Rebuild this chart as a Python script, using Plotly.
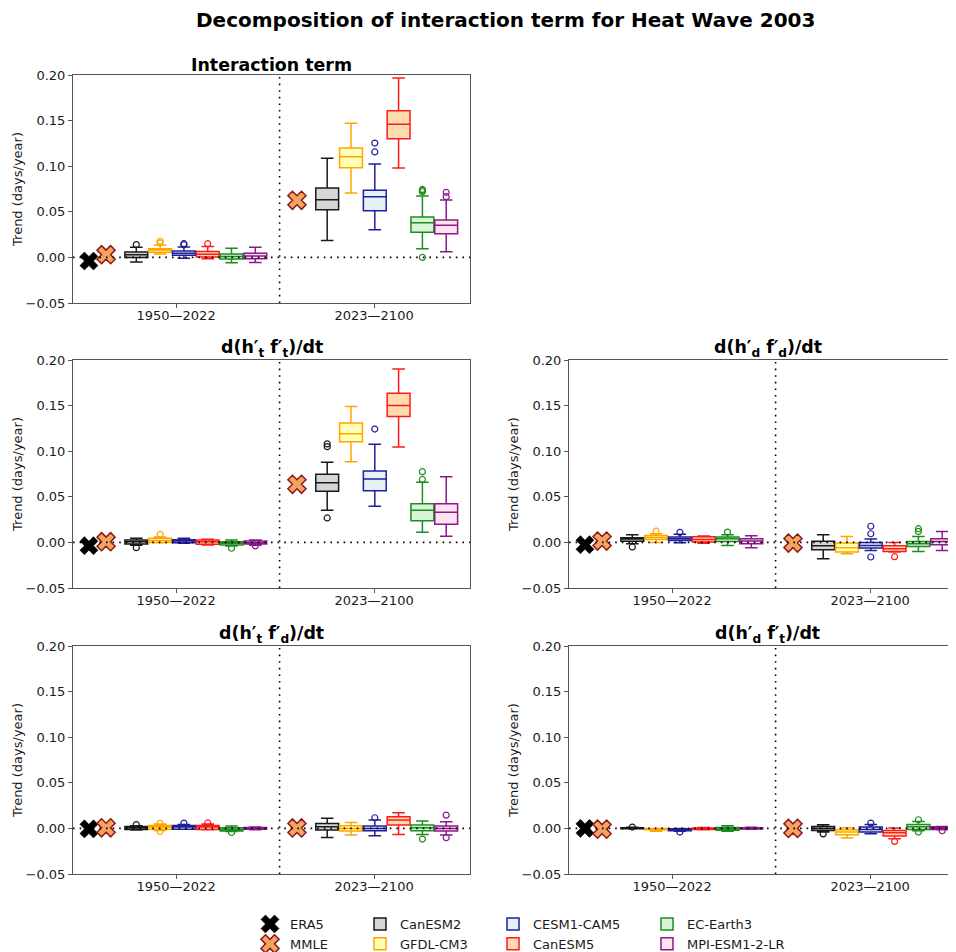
import plotly.graph_objects as go

# ---------------- data ----------------
MODELS = ["CanESM2", "GFDL-CM3", "CESM1-CAM5", "CanESM5", "EC-Earth3", "MPI-ESM1-2-LR"]
EDGE = ["#1a1a1a", "#ffa500", "#1f1f9a", "#ff1a1a", "#1e8c1e", "#8a1a8a"]
FILL = ["#d6d6d6", "#ffffb8", "#e4f1f7", "#ffdcb0", "#d8f4d8", "#fde4ee"]
PERIODS = ["1950\u20142022", "2023\u20142100"]
PANEL_TITLES = [
    "<b>Interaction term</b>",
    "<b>d(h\u2032<sub>t</sub> f\u2032<sub>t</sub>)/dt</b>",
    "<b>d(h\u2032<sub>d</sub> f\u2032<sub>d</sub>)/dt</b>",
    "<b>d(h\u2032<sub>t</sub> f\u2032<sub>d</sub>)/dt</b>",
    "<b>d(h\u2032<sub>d</sub> f\u2032<sub>t</sub>)/dt</b>",
]
YTICKS = [-0.05, 0.0, 0.05, 0.10, 0.15, 0.20]
YTICKTEXT = ["\u22120.05", "0.00", "0.05", "0.10", "0.15", "0.20"]

# stats indexed [panel][period][model]
LOWER = [
    [[-0.005, 0.0037, -0.001, -0.0015, -0.006, -0.0055],
     [0.0184, 0.0706, 0.0304, 0.098, 0.0096, 0.0063]],
    [[-0.003, -0.0005, -0.001, -0.0028, -0.004, -0.003],
     [0.0352, 0.0885, 0.0396, 0.1046, 0.011, 0.0067]],
    [[-0.0015, 0.0, -0.0004, -0.001, -0.0033, -0.0058],
     [-0.018, -0.0125, -0.009, -0.0105, -0.0099, -0.0088]],
    [[-0.0018, -0.0022, -0.001, -0.0015, -0.0035, -0.0015],
     [-0.0099, -0.0073, -0.008, -0.0066, -0.0066, -0.0073]],
    [[-0.0005, -0.003, -0.003, -0.0015, -0.003, -0.001],
     [-0.004, -0.0106, -0.0058, -0.0113, -0.0025, -0.0015]],
]
Q1 = [
    [[0.0, 0.0056, 0.0023, 0.0005, -0.0018, -0.0015],
     [0.0523, 0.0984, 0.0512, 0.130, 0.0275, 0.026]],
    [[-0.0018, 0.0, -0.0003, -0.002, -0.0028, -0.0018],
     [0.056, 0.1104, 0.0567, 0.138, 0.0238, 0.0198]],
    [[0.0012, 0.0033, 0.0022, 0.0004, 0.0011, -0.0015],
     [-0.008, -0.0105, -0.0062, -0.0099, -0.0044, -0.0026]],
    [[-0.0012, -0.001, -0.001, -0.0011, -0.0029, -0.001],
     [-0.0018, -0.0029, -0.0026, 0.0037, -0.0026, -0.0029]],
    [[-0.0005, -0.0015, -0.0025, -0.0013, -0.002, -0.0007],
     [-0.0022, -0.0069, -0.004, -0.0084, -0.0011, -0.0011]],
]
MEDIAN = [
    [[0.003, 0.008, 0.0045, 0.0035, 0.001, 0.0016],
     [0.0633, 0.1104, 0.0666, 0.146, 0.038, 0.0352]],
    [[0.0007, 0.002, 0.0015, 0.0008, -0.001, -0.0003],
     [0.0655, 0.119, 0.0695, 0.150, 0.0352, 0.033]],
    [[0.0036, 0.0055, 0.004, 0.0033, 0.004, 0.0015],
     [-0.0037, -0.006, -0.0033, -0.007, -0.0015, 0.0011]],
    [[0.0007, 0.0015, 0.0015, 0.0015, -0.0011, 0.0],
     [0.0018, 0.0, 0.0, 0.0091, 0.0007, 0.0]],
    [[0.0, -0.0008, -0.0015, -0.0005, -0.0005, 0.0],
     [0.0, -0.004, -0.0011, -0.0047, 0.0018, 0.0004]],
]
Q3 = [
    [[0.006, 0.0095, 0.007, 0.0065, 0.0037, 0.0045],
     [0.0761, 0.120, 0.0736, 0.1609, 0.0443, 0.041]],
    [[0.0026, 0.0045, 0.003, 0.0025, 0.0007, 0.0015],
     [0.0746, 0.131, 0.0783, 0.1635, 0.0424, 0.0424]],
    [[0.0052, 0.0077, 0.0058, 0.0062, 0.0058, 0.004],
     [0.0012, -0.0007, 0.0, -0.0037, 0.0011, 0.004]],
    [[0.0022, 0.0033, 0.0033, 0.0033, 0.0007, 0.0011],
     [0.0055, 0.0029, 0.0026, 0.0128, 0.0037, 0.0026]],
    [[0.0008, 0.0, -0.0003, 0.0005, 0.001, 0.0007],
     [0.0022, -0.0015, 0.0015, -0.0022, 0.0044, 0.0018]],
]
UPPER = [
    [[0.011, 0.0136, 0.0114, 0.012, 0.010, 0.011],
     [0.1087, 0.147, 0.1024, 0.1967, 0.0673, 0.063]],
    [[0.0045, 0.006, 0.0045, 0.0035, 0.0025, 0.0026],
     [0.0878, 0.149, 0.1075, 0.190, 0.066, 0.072]],
    [[0.0085, 0.0095, 0.0088, 0.007, 0.0084, 0.0073],
     [0.0084, 0.0066, 0.0037, 0.0, 0.0066, 0.012]],
    [[0.003, 0.0048, 0.0044, 0.0048, 0.0025, 0.0015],
     [0.011, 0.0066, 0.0091, 0.0172, 0.008, 0.0073]],
    [[0.0012, 0.0, 0.0, 0.001, 0.003, 0.0012],
     [0.004, 0.0007, 0.0044, 0.0004, 0.0077, 0.0022]],
]
OUTLIERS = [
    [[[0.014], [0.016, 0.018], [0.014, 0.015], [0.015], [], []],
     [[], [], [0.1156, 0.1254], [], [0.0, 0.072, 0.0735, 0.0745], [0.0666, 0.0714]]],
    [[[-0.0058], [0.0089], [], [], [-0.0064], [-0.0038]],
     [[0.0268, 0.105, 0.108], [], [0.1243], [], [0.069, 0.0775], []]],
    [[[-0.005], [0.0124], [0.011], [], [0.0113], []],
     [[], [], [-0.016, 0.0095, 0.0177], [-0.0157], [0.012, 0.015], []]],
    [[[0.0042], [-0.0033, 0.0055], [0.0058], [0.006], [-0.0045], []],
     [[], [], [0.0117], [], [-0.0117], [-0.0102, 0.0146]]],
    [[[0.0015], [], [-0.004], [], [], []],
     [[-0.006], [], [0.0058], [-0.0142], [-0.004, 0.0095], [-0.0026]]],
]
ERA5 = [-0.004, -0.0036, -0.0025, -0.0005, 0.0]          # 1950-2022 only
MMLE = [[0.003, 0.0626], [0.0008, 0.0637], [0.0015, -0.0007],
        [0.0007, 0.0005], [-0.0008, 0.0]]

# ---------------- layout constants ----------------
ERA5_POS = 0.67
MMLE_POS = [1.39, 9.41]
BOX_START = [2.66, 10.68]
DIVIDER = 8.68
TICK_POS = [4.33, 12.65]
LEFT_RANGE = [0, 16.68]
RIGHT_RANGE = [0, 16.68 * 395 / 397]

H = 952.0
W = 956.0
OFF = 8.0  # page body margin


def fx(px):
    return (px - OFF) / W


def fy(py):
    return 1 - (py - OFF) / H


X_LEFT = [fx(73), fx(470)]
X_RIGHT = [fx(569), 1.0]
Y_ROWS = [[fy(303), fy(75)], [fy(588), fy(360)], [fy(874), fy(646)]]
PANEL_DOMAINS = [
    (X_LEFT, Y_ROWS[0]), (X_LEFT, Y_ROWS[1]), (X_RIGHT, Y_ROWS[1]),
    (X_LEFT, Y_ROWS[2]), (X_RIGHT, Y_ROWS[2]),
]
RIGHT_PANELS = {2, 4}
LEGEND_OF = ["legend2", "legend2", "legend3", "legend3", "legend4", "legend4"]

FONT = "DejaVu Sans"
TXT = "#1a1a1a"
fig = go.Figure()

for p in range(5):
    xa = "x" if p == 0 else f"x{p+1}"
    ya = "y" if p == 0 else f"y{p+1}"
    fig.add_trace(go.Scatter(
        x=[ERA5_POS], y=[ERA5[p]], mode="markers", name="ERA5",
        marker=dict(symbol="x", size=16, color="black", line=dict(color="black", width=0.5)),
        showlegend=(p == 0), legend="legend", xaxis=xa, yaxis=ya, hoverinfo="skip"))
    fig.add_trace(go.Scatter(
        x=MMLE_POS, y=MMLE[p], mode="markers", name="MMLE",
        marker=dict(symbol="x", size=16, color="#f4a460", line=dict(color="#8b1a1a", width=1.5)),
        showlegend=(p == 0), legend="legend", xaxis=xa, yaxis=ya, hoverinfo="skip"))
    for m in range(6):
        xs = [BOX_START[g] + m for g in range(2)]
        fig.add_trace(go.Box(
            x=xs,
            q1=[Q1[p][g][m] for g in range(2)],
            median=[MEDIAN[p][g][m] for g in range(2)],
            q3=[Q3[p][g][m] for g in range(2)],
            lowerfence=[LOWER[p][g][m] for g in range(2)],
            upperfence=[UPPER[p][g][m] for g in range(2)],
            name=MODELS[m], width=0.96, whiskerwidth=0.55,
            line=dict(color=EDGE[m], width=1.5), fillcolor=FILL[m],
            boxpoints=False, showlegend=(p == 0), legend=LEGEND_OF[m],
            xaxis=xa, yaxis=ya, hoverinfo="skip"))
        ox, oy = [], []
        for g in range(2):
            for v in OUTLIERS[p][g][m]:
                ox.append(BOX_START[g] + m)
                oy.append(v)
        if ox:
            fig.add_trace(go.Scatter(
                x=ox, y=oy, mode="markers", showlegend=False,
                marker=dict(symbol="circle-open", size=6, color=EDGE[m], line=dict(width=1.2)),
                xaxis=xa, yaxis=ya, hoverinfo="skip"))

layout = dict(
    width=956, height=952,
    margin=dict(l=0, r=0, t=0, b=0, autoexpand=False),
    paper_bgcolor="white", plot_bgcolor="white",
    font=dict(family=FONT, size=13, color=TXT),
    boxmode="overlay",
    showlegend=True,
)

axis_line = "#555555"
for p in range(5):
    xd, yd = PANEL_DOMAINS[p]
    xk = "xaxis" if p == 0 else f"xaxis{p+1}"
    yk = "yaxis" if p == 0 else f"yaxis{p+1}"
    ya = "y" if p == 0 else f"y{p+1}"
    xa = "x" if p == 0 else f"x{p+1}"
    right = p in RIGHT_PANELS
    layout[xk] = dict(
        domain=xd, anchor=ya, range=RIGHT_RANGE if right else LEFT_RANGE,
        tickvals=TICK_POS, ticktext=PERIODS, ticks="outside", ticklen=4,
        ticklabelstandoff=-4,
        tickcolor=axis_line, showline=True, linecolor=axis_line, linewidth=1,
        mirror=True, showgrid=False, zeroline=False,
        tickfont=dict(size=13, family=FONT, color=TXT),
    )
    layout[yk] = dict(
        domain=yd, anchor=xa, range=[-0.05, 0.20],
        tickvals=YTICKS, ticktext=YTICKTEXT, ticks="outside", ticklen=4,
        tickcolor=axis_line, showline=True, linecolor=axis_line, linewidth=1,
        mirror=(not right), showgrid=False, zeroline=False,
        tickfont=dict(size=13, family=FONT, color=TXT),
        title=dict(text="Trend (days/year)", font=dict(size=13, family=FONT, color=TXT),
                   standoff=0),
    )

fig.update_layout(**layout)

shapes = []
annotations = []
for p in range(5):
    xa = "x" if p == 0 else f"x{p+1}"
    ya = "y" if p == 0 else f"y{p+1}"
    shapes.append(dict(type="line", xref=f"{xa} domain", yref=ya, x0=0, x1=1, y0=0, y1=0,
                       line=dict(color="black", width=1.6, dash="1.6px,5px"), layer="above"))
    shapes.append(dict(type="line", xref=xa, yref=f"{ya} domain", x0=DIVIDER, x1=DIVIDER, y0=0, y1=1,
                       line=dict(color="black", width=1.6, dash="1.6px,5px"), layer="above"))
    xd, yd = PANEL_DOMAINS[p]
    cx = (xd[0] + 397 / W / 2) if p in RIGHT_PANELS else (xd[0] + xd[1]) / 2
    annotations.append(dict(text=PANEL_TITLES[p], x=cx, y=yd[1], xref="paper", yref="paper",
                            xanchor="center", yanchor="bottom", yshift=-2, showarrow=False,
                            font=dict(size=17.4, family=FONT, color="black")))

annotations.append(dict(text="<b>Decomposition of interaction term for Heat Wave 2003</b>",
                        x=fx(505), y=fy(20), xref="paper", yref="paper",
                        xanchor="center", yanchor="middle", showarrow=False,
                        font=dict(size=20, family=FONT, color="black")))

fig.update_layout(shapes=shapes, annotations=annotations)

leg_common = dict(orientation="v", xanchor="left", yanchor="top", y=fy(909),
                  bgcolor="rgba(0,0,0,0)", font=dict(size=13, family=FONT, color=TXT),
                  tracegroupgap=0, itemwidth=30)
fig.update_layout(
    legend=dict(x=fx(290 - 40), **leg_common),
    legend2=dict(x=fx(400 - 40), **leg_common),
    legend3=dict(x=fx(533 - 40), **leg_common),
    legend4=dict(x=fx(687 - 40), **leg_common),
)

fig.write_html("out.html")
